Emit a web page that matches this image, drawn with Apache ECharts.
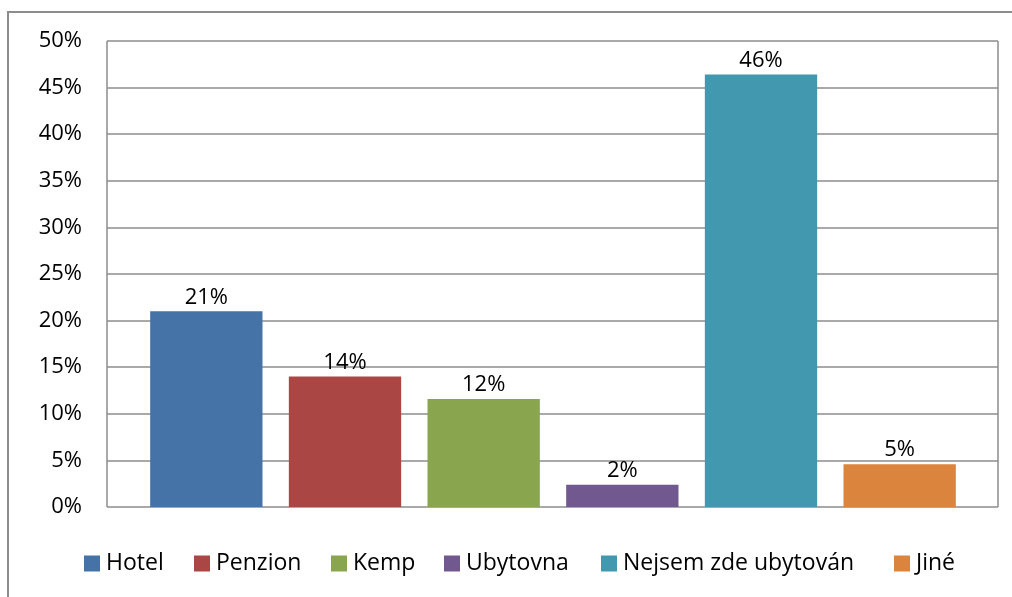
<!DOCTYPE html>
<html>
<head>
    <meta charset="utf-8">
    <title>Ubytování</title>
    <script src="https://cdn.jsdelivr.net/npm/echarts@6/dist/echarts.min.js"></script>
    <style>
        html, body { margin: 0; padding: 0; background: #fff; }
        #frame {
            position: absolute;
            left: 7px;
            top: 11px;
            width: 1100px;
            height: 700px;
            border: 2px solid #8c8c8c;
        }
        #container { position: absolute; left: 0; top: 0; width: 1012px; height: 597px; }
    </style>
</head>
<body>
<div id="frame"></div>
<div id="container"></div>
<script>
    var categories = ['Hotel', 'Penzion', 'Kemp', 'Ubytovna', 'Nejsem zde ubytován', 'Jiné'];
    var values = [21.0, 14.0, 11.6, 2.4, 46.4, 4.6];
    var colors = ['#4572A7', '#AA4643', '#89A54E', '#71588F', '#4198AF', '#DB843D'];
    var yTicks = [0, 5, 10, 15, 20, 25, 30, 35, 40, 45, 50];

    var font = '"Open Sans", "Noto Sans", sans-serif';
    var gridColor = '#8c8c8c';
    // pozice polozek legendy (jako v Excelu)
    var legendLeft = [84, 194, 331, 444, 601, 894];

    // kazda kategorie je samostatna serie (kvuli legende)
    var series = categories.map(function (name, i) {
        var data = categories.map(function (c, j) { return j === i ? values[i] : '-'; });
        return {
            name: name,
            type: 'bar',
            stack: 'all',
            xAxisIndex: 1,
            yAxisIndex: 1,
            barWidth: '81%',
            data: data,
            itemStyle: { color: colors[i] },
            label: {
                show: true,
                position: 'top',
                distance: 3,
                color: '#000',
                fontFamily: font,
                fontSize: 22,
                formatter: function (p) { return Math.round(p.value) + '%'; }
            }
        };
    });

    var legends = categories.map(function (name, i) {
        return {
            left: legendLeft[i],
            top: 552,
            padding: 0,
            itemWidth: 16,
            itemHeight: 16,
            icon: 'rect',
            selectedMode: false,
            textStyle: { fontSize: 23, color: '#000', fontFamily: font, padding: [0, 0, 0, 1] },
            data: [name]
        };
    });

    var myChart = echarts.init(document.getElementById('container'));
    myChart.setOption({
        animation: false,
        textStyle: { fontFamily: font },
        grid: [
            // ramecek + mrizka
            { left: 107, right: 14, top: 41, bottom: 90 },
            // sloupce
            { left: 137, right: 43, top: 41, bottom: 90 }
        ],
        legend: legends,
        xAxis: [{
            gridIndex: 0,
            type: 'value',
            min: 0,
            max: 1,
            interval: 1,
            axisLine: { show: false },
            axisTick: { show: false },
            axisLabel: { show: false },
            splitLine: { show: true, lineStyle: { color: gridColor, width: 1.5 } }
        }, {
            gridIndex: 1,
            type: 'category',
            data: categories,
            axisLine: { show: false },
            axisTick: { show: false },
            axisLabel: { show: false }
        }],
        yAxis: [{
            gridIndex: 0,
            type: 'value',
            min: yTicks[0],
            max: yTicks[yTicks.length - 1],
            interval: 5,
            axisLine: { show: false },
            axisTick: { show: false },
            axisLabel: {
                margin: 25,
                color: '#000',
                fontSize: 22,
                fontFamily: font,
                formatter: function (v) { return v + '%'; }
            },
            splitLine: { lineStyle: { color: gridColor, width: 1.5 } }
        }, {
            gridIndex: 1,
            type: 'value',
            min: yTicks[0],
            max: yTicks[yTicks.length - 1],
            interval: 5,
            axisLine: { show: false },
            axisTick: { show: false },
            axisLabel: { show: false },
            splitLine: { show: false }
        }],
        series: series
    });
</script>
</body>
</html>
